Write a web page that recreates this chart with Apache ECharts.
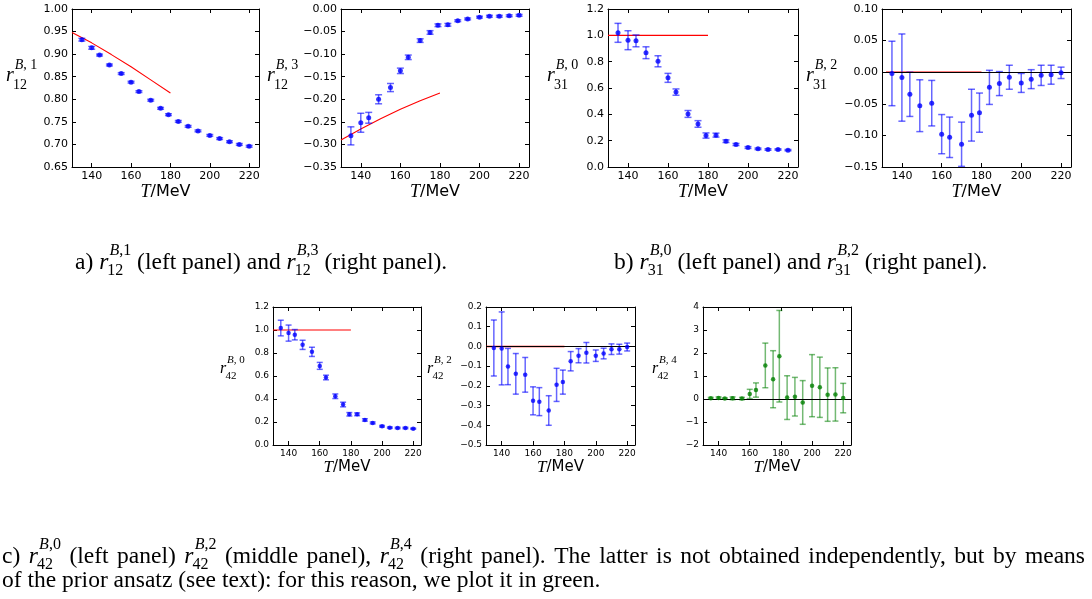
<!DOCTYPE html>
<html>
<head>
<meta charset="utf-8">
<script src="https://cdn.jsdelivr.net/npm/echarts@6/dist/echarts.min.js"></script>
<style>html,body{margin:0;padding:0;background:#fff}#main{width:1092px;height:599px}</style>
</head>
<body>
<div id="main"></div>
<script>
// temperatures (MeV)
var T = [135, 140, 144, 149, 155, 160, 164, 170, 175, 179, 184, 189, 194, 200, 205, 210, 215, 220];
var xTicks = [140, 160, 180, 200, 220];

var r12B1 = [0.932, 0.914, 0.898, 0.876, 0.857, 0.838, 0.817, 0.798, 0.780, 0.766, 0.751, 0.740, 0.730, 0.720, 0.713, 0.706, 0.700, 0.696];
var r12B1Err = [0.003, 0.003, 0.002, 0.002, 0.002, 0.002, 0.002, 0.002, 0.002, 0.002, 0.002, 0.002, 0.002, 0.002, 0.002, 0.002, 0.002, 0.002];
var r12B3 = [-0.281, -0.252, -0.241, -0.200, -0.174, -0.137, -0.107, -0.070, -0.052, -0.036, -0.035, -0.026, -0.022, -0.018, -0.016, -0.016, -0.015, -0.014];
var r12B3Err = [0.020, 0.021, 0.012, 0.010, 0.009, 0.006, 0.005, 0.004, 0.004, 0.003, 0.003, 0.002, 0.002, 0.002, 0.002, 0.002, 0.002, 0.002];
var r31B0 = [1.019, 0.963, 0.958, 0.868, 0.803, 0.677, 0.569, 0.403, 0.327, 0.239, 0.242, 0.196, 0.171, 0.148, 0.138, 0.133, 0.133, 0.128];
var r31B0Err = [0.072, 0.072, 0.045, 0.045, 0.042, 0.034, 0.024, 0.026, 0.025, 0.020, 0.015, 0.010, 0.008, 0.007, 0.006, 0.006, 0.005, 0.005];
var r31B2 = [-0.002, -0.0085, -0.035, -0.053, -0.049, -0.098, -0.103, -0.114, -0.068, -0.064, -0.024, -0.018, -0.008, -0.017, -0.011, -0.005, -0.004, -0.001];
var r31B2Err = [0.051, 0.069, 0.035, 0.041, 0.036, 0.031, 0.032, 0.035, 0.041, 0.031, 0.027, 0.019, 0.019, 0.015, 0.015, 0.016, 0.015, 0.009];
var r42B0 = [1.017, 0.973, 0.959, 0.871, 0.810, 0.688, 0.587, 0.424, 0.352, 0.267, 0.267, 0.218, 0.192, 0.163, 0.151, 0.148, 0.148, 0.142];
var r42B0Err = [0.068, 0.070, 0.045, 0.040, 0.040, 0.030, 0.020, 0.020, 0.020, 0.015, 0.012, 0.010, 0.008, 0.007, 0.006, 0.006, 0.006, 0.005];
var r42B2 = [-0.008, -0.010, -0.102, -0.139, -0.144, -0.276, -0.280, -0.325, -0.195, -0.181, -0.075, -0.047, -0.032, -0.047, -0.036, -0.014, -0.014, -0.003];
var r42B2Err = [0.142, 0.185, 0.092, 0.103, 0.088, 0.071, 0.071, 0.075, 0.084, 0.061, 0.049, 0.036, 0.052, 0.029, 0.027, 0.027, 0.025, 0.020];
var r42B4 = [0.03, 0.04, 0.02, 0.03, 0.02, 0.22, 0.39, 1.46, 0.86, 1.86, 0.06, 0.10, -0.15, 0.58, 0.51, 0.19, 0.20, 0.04];
var r42B4Err = [0.04, 0.05, 0.03, 0.06, 0.05, 0.20, 0.31, 0.97, 1.24, 1.99, 0.95, 0.84, 0.95, 1.35, 1.31, 1.16, 1.16, 0.64];

// red reference curves
var redT = [130, 140, 150, 160, 170, 180];
var r12B1Red = [0.948, 0.925, 0.899, 0.872, 0.843, 0.814];
var r12B3Red = [-0.290, -0.266, -0.243, -0.222, -0.203, -0.186];
var flatT = [130, 180];
var flatT2 = [132, 180];
var oneRed = [1, 1];
var zeroRed = [0, 0];

var BLUE = '#0000ff', BLUE_ERR = 'rgba(0,0,255,0.6)';
var GREEN = '#007f00', GREEN_ERR = 'rgba(0,128,0,0.55)';

var panels = [
  {box: [72, 9, 187, 158], y: [0.65, 1.00, 0.05], d: 2, v: r12B1, e: r12B1Err, rx: redT, ry: r12B1Red, zero: false, big: true, lab: [6, 82, ', 1', '12']},
  {box: [341, 9, 188, 158], y: [-0.35, 0.00, 0.05], d: 2, v: r12B3, e: r12B3Err, rx: redT, ry: r12B3Red, zero: false, big: true, lab: [267, 82, ', 3', '12']},
  {box: [608, 9, 190, 158], y: [0, 1.2, 0.2], d: 1, v: r31B0, e: r31B0Err, rx: flatT, ry: oneRed, zero: false, big: true, lab: [547, 82, ', 0', '31']},
  {box: [882, 9, 189, 158], y: [-0.15, 0.10, 0.05], d: 2, v: r31B2, e: r31B2Err, rx: flatT2, ry: zeroRed, zero: true, big: true, lab: [806, 82, ', 2', '31']},
  {box: [273, 307, 148, 138], y: [0, 1.2, 0.2], d: 1, v: r42B0, e: r42B0Err, rx: flatT, ry: oneRed, zero: false, big: false, lab: [220, 374, ', 0', '42']},
  {box: [486, 307, 149, 138], y: [-0.5, 0.2, 0.1], d: 1, v: r42B2, e: r42B2Err, rx: flatT, ry: zeroRed, zero: true, big: false, lab: [427, 374, ', 2', '42']},
  {box: [703, 307, 148, 138], y: [-2, 4, 1], d: 0, v: r42B4, e: r42B4Err, rx: null, ry: null, zero: true, big: false, green: true, lab: [652, 374, ', 4', '42']}
];

// text helpers
var mctx = document.createElement('canvas').getContext('2d');
var SERIF = '"Liberation Serif", "Times New Roman", serif';
var CAP = 23.5;
function fnt(size, it) { return (it ? 'italic ' : '') + size + 'px ' + SERIF; }
function tw(s, size, it) { mctx.font = fnt(size, it); return mctx.measureText(s).width; }
function put(x, base, s, size, it) {
  return {type: 'text', x: x, y: base - 0.3375 * size, silent: true,
    style: {text: s, font: fnt(size, it), fill: '#000', align: 'left', verticalAlign: 'middle'}};
}
function mathR(x, base, size, ss, up, down, sup, sub, out, pad) {
  out.push(put(x, base, 'r', size, true));
  x += tw('r', size, true);
  var sx = x + size * 0.05;
  out.push(put(sx, base - up, 'B', ss, true));
  var w1 = tw('B', ss, true);
  out.push(put(sx + w1, base - up, sup, ss, false));
  var wsup = size * 0.05 + w1 + tw(sup, ss, false);
  out.push(put(x - size * 0.04, base + down, sub, ss, false));
  var wsub = tw(sub, ss, false) - size * 0.04;
  return x + Math.max(wsup, wsub) + pad;
}
function line(x0, base, parts, out, endX) {
  // natural width, then optional justification over the spaces
  var nat = 0, nsp = 0, dummy = [];
  parts.forEach(function (p) {
    if (typeof p === 'string') { nat += tw(p, CAP, false); nsp += (p.match(/ /g) || []).length; }
    else { nat = mathR(nat, base, CAP, 16, 15, 5, p[0], p[1], dummy, 0); }
  });
  var extra = endX ? (endX - x0 - nat) / nsp : 0;
  var x = x0, sp = tw(' ', CAP, false);
  parts.forEach(function (p) {
    if (typeof p === 'string') {
      p.split(/( )/).forEach(function (tok) {
        if (tok === '') return;
        if (tok === ' ') { x += sp + extra; return; }
        out.push(put(x, base, tok, CAP, false));
        x += tw(tok, CAP, false);
      });
    } else { x = mathR(x, base, CAP, 16, 15, 5, p[0], p[1], out, 0); }
  });
}

function fmt(d) {
  return function (v) {
    if (Math.abs(v) < 1e-9) v = 0;
    return v.toFixed(d).replace('-', '\u2212');
  };
}

var option = {animation: false, backgroundColor: '#fff', grid: [], xAxis: [], yAxis: [], series: [], graphic: {elements: []}};
var els = option.graphic.elements;

panels.forEach(function (p, i) {
  var fs = p.big ? 11 : 9;
  option.grid.push({left: p.box[0], top: p.box[1], width: p.box[2], height: p.box[3], containLabel: false, outerBoundsMode: 'none'});
  var axLine = {show: true, onZero: false, lineStyle: {color: '#000', width: 1}};
  var tick = {show: true, inside: true, length: 4, lineStyle: {color: '#000', width: 1}};
  option.xAxis.push({
    type: 'value', gridIndex: i, position: 'bottom', min: 130, max: 225,
    axisLine: axLine, splitLine: {show: false},
    axisTick: Object.assign({customValues: xTicks}, tick),
    axisLabel: {customValues: xTicks, margin: 4, fontSize: fs, color: '#000', fontFamily: 'DejaVu Sans'},
    name: '{i|T}/MeV', nameLocation: 'middle', nameGap: p.big ? 15 : 13,
    nameTextStyle: {fontSize: p.big ? 16 : 15, color: '#000', fontFamily: 'DejaVu Sans',
      rich: {i: {fontStyle: 'italic', fontFamily: SERIF, fontSize: p.big ? 18 : 17, color: '#000'}}}
  }, {
    type: 'value', gridIndex: i, position: 'top', min: 130, max: 225,
    axisLine: axLine, splitLine: {show: false},
    axisTick: Object.assign({customValues: xTicks}, tick),
    axisLabel: {show: false}
  });
  option.yAxis.push({
    type: 'value', gridIndex: i, position: 'left', min: p.y[0], max: p.y[1], interval: p.y[2],
    axisLine: axLine, splitLine: {show: false}, axisTick: tick,
    axisLabel: {margin: 4, fontSize: fs, color: '#000', fontFamily: 'DejaVu Sans', formatter: fmt(p.d), showMinLabel: true, showMaxLabel: true}
  }, {
    type: 'value', gridIndex: i, position: 'right', min: p.y[0], max: p.y[1], interval: p.y[2],
    axisLine: axLine, splitLine: {show: false}, axisTick: tick, axisLabel: {show: false}
  });
  var xa = 2 * i, ya = 2 * i;
  var col = p.green ? GREEN : BLUE, ecol = p.green ? GREEN_ERR : BLUE_ERR;
  var cap = p.big ? 3.5 : 3;
  var zeroLine = p.zero ? {silent: true, symbol: ['none', 'none'], label: {show: false},
    lineStyle: {color: '#000', width: 1, type: 'solid'}, data: [{yAxis: 0}]} : undefined;
  if (p.rx) {
    option.series.push({
      type: 'line', xAxisIndex: xa, yAxisIndex: ya, z: 3, silent: true,
      data: p.rx.map(function (t, k) { return [t, p.ry[k]]; }),
      symbol: 'none', lineStyle: {color: '#ff0000', width: p.zero ? 1.6 : 1.1},
      markLine: zeroLine
    });
  }
  option.series.push({
    type: 'custom', xAxisIndex: xa, yAxisIndex: ya, z: 4, silent: true, clip: true,
    data: T.map(function (t, k) { return [t, p.v[k], p.e[k]]; }),
    markLine: p.rx ? undefined : zeroLine,
    renderItem: function (params, api) {
      var x = api.value(0), y = api.value(1), e = api.value(2);
      var a = api.coord([x, y + e]), b = api.coord([x, y - e]);
      var st = {stroke: ecol, lineWidth: 1.5};
      return {type: 'group', children: [
        {type: 'line', shape: {x1: a[0], y1: a[1], x2: b[0], y2: b[1]}, style: st},
        {type: 'line', shape: {x1: a[0] - cap, y1: a[1], x2: a[0] + cap, y2: a[1]}, style: st},
        {type: 'line', shape: {x1: b[0] - cap, y1: b[1], x2: b[0] + cap, y2: b[1]}, style: st}
      ]};
    }
  });
  option.series.push({
    type: 'scatter', xAxisIndex: xa, yAxisIndex: ya, z: 5, silent: true,
    symbol: 'circle', symbolSize: p.big ? 5 : 4.5,
    itemStyle: {color: col},
    data: T.map(function (t, k) { return [t, p.v[k]]; })
  });
  // y-axis label r^{B,n}_{ij}
  if (p.big) mathR(p.lab[0], p.lab[1], 20, 14, 12, 8, p.lab[2], p.lab[3], els, 0);
  else mathR(p.lab[0], p.lab[1], 16, 11, 10, 6, p.lab[2], p.lab[3], els, 0);
});

// captions
line(75, 271, ['a) ', [',1', '12'], ' (left panel) and ', [',3', '12'], ' (right panel).'], els);
line(614, 271, ['b) ', [',0', '31'], ' (left panel) and ', [',2', '31'], ' (right panel).'], els);
line(2, 565, ['c) ', [',0', '42'], ' (left panel) ', [',2', '42'], ' (middle panel), ', [',4', '42'],
  ' (right panel). The latter is not obtained independently, but by means'], els, 1085);
line(2, 589, ['of the prior ansatz (see text): for this reason, we plot it in green.'], els);

var myChart = echarts.init(document.getElementById('main'));
myChart.setOption(option);
</script>
</body>
</html>
